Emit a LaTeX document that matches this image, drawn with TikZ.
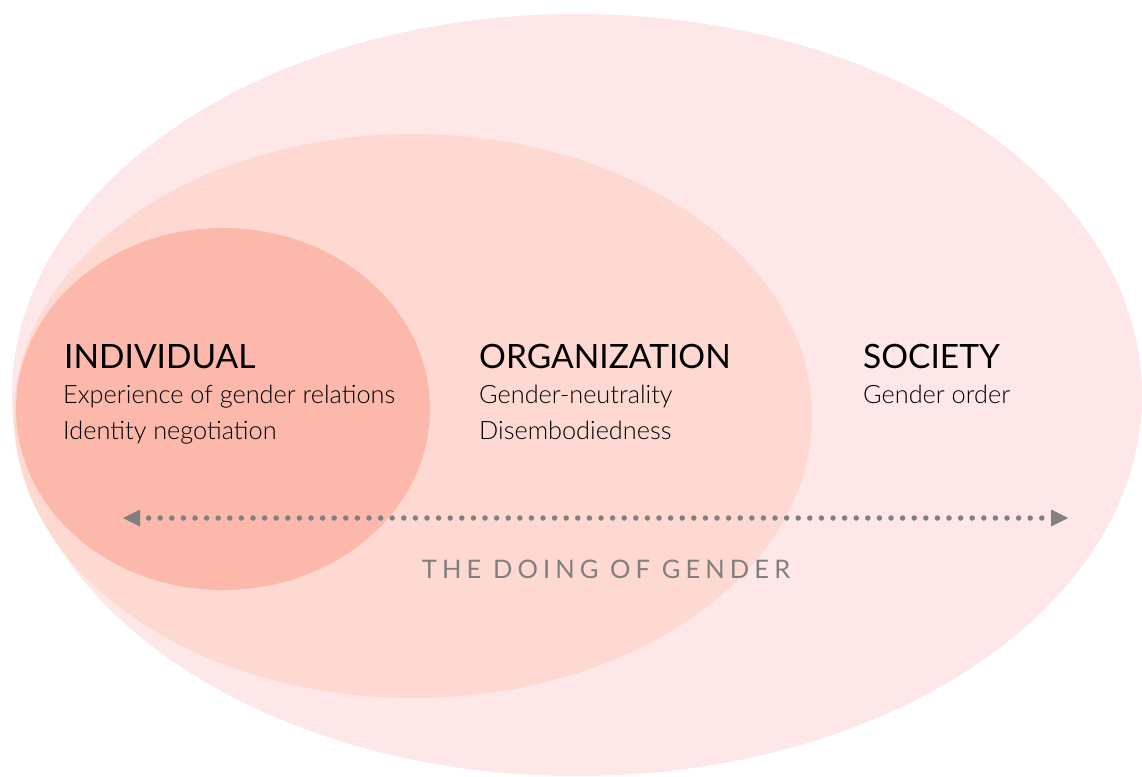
\documentclass[tikz,border=0pt]{standalone}
\usepackage{fontspec}
\setmainfont{Lato Light}
\newfontfamily\headfont{Lato}
\usetikzlibrary{arrows.meta}
\definecolor{societyfill}{RGB}{253,231,233}
\definecolor{orgfill}{RGB}{253,217,210}
\definecolor{indfill}{RGB}{251,184,171}
\definecolor{flowgray}{RGB}{128,128,128}
\tikzset{
  heading/.style={anchor=base west, inner sep=0pt, font=\headfont\fontsize{33.5}{36}\selectfont},
  detail/.style={anchor=base west, inner sep=0pt, font=\fontsize{25.3}{36}\selectfont},
  flow/.style={draw=flowgray, line width=5.5pt, line cap=round, dash pattern=on 0pt off 11.6pt,
    shorten <=14pt, shorten >=14pt},
  flowtip/.style={fill=flowgray, draw=none},
}
\begin{document}
\begin{tikzpicture}[x=1pt,y=-1pt]
\useasboundingbox (0,0) rectangle (1142,776);
% nested spheres
\fill[societyfill] (577,395) ellipse [x radius=565, y radius=381];
\fill[orgfill] (413,416) ellipse [x radius=399, y radius=282];
\fill[indfill] (223,409) ellipse [x radius=207, y radius=181];
% individual level
\node[heading] (ind) at (64,368) {INDIVIDUAL};
\node[detail] (ind1) at (63,403) {Experience of gender relations};
\node[detail] (ind2) at (63,439) {Identity negotiation};
% organizational level
\node[heading] (org) at (479,368) {ORGANIZATION};
\node[detail] (org1) at (479,403) {Gender-neutrality};
\node[detail] (org2) at (479,439) {Disembodiedness};
% societal level
\node[heading] (soc) at (863,368) {SOCIETY};
\node[detail] (soc1) at (863,403) {Gender order};
% the doing of gender
\coordinate (left) at (123,518);
\coordinate (right) at (1068,518);
\draw[flow] (left) -- (right);
\fill[flowtip] (left) -- ++(17,-8.5) -- ++(0,17) -- cycle;
\fill[flowtip] (right) -- ++(-17,-8.5) -- ++(0,17) -- cycle;
\node[anchor=base, inner sep=0pt, text=flowgray,
  font=\headfont\fontsize{25.5}{28}\selectfont\addfontfeature{LetterSpace=20}] (doing) at (606,578) {THE DOING OF GENDER};
\end{tikzpicture}
\end{document}
